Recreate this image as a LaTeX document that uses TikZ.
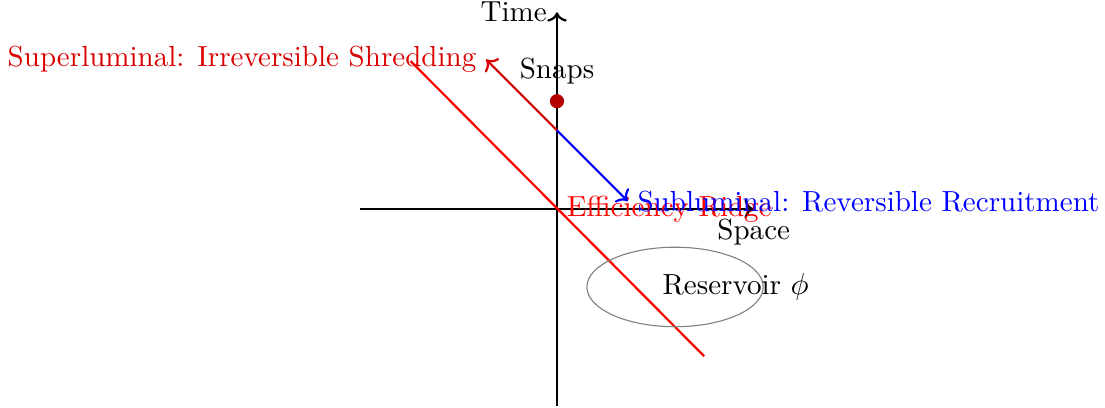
\documentclass[tikz,border=0pt]{standalone}
\usetikzlibrary{arrows.meta,shapes.geometric}
\begin{document}
\begin{tikzpicture}[
  every node/.style={font=\fontsize{10.5}{12.6}\selectfont},
  axis/.style={thick,->},
  ridge/.style={thick,red},
  superl/.style={thick,->,red!85!black},
  subl/.style={thick,->,blue},
  reservoir/.style={draw=gray,thin}
]
\useasboundingbox (-7.077,-2.516) rectangle (6.963,2.656);
% axes
\coordinate (xl) at (-2.5,0);
\coordinate (xr) at (2.5,0);
\coordinate (yb) at (0,-2.5);
\coordinate (yt) at (0,2.5);
\draw[axis] (xl) -- (xr) node[below] (space) {Space};
\draw[axis] (yb) -- (yt) node[left] (time) {Time};
% efficiency ridge
\coordinate (r1) at (-1.86,1.88);
\coordinate (r2) at (1.87,-1.87);
\coordinate (o) at (0,0);
\draw[ridge] (r1) -- (r2);
\node[right,red] (ridgelbl) at (o) {Efficiency Ridge};
% reservoir
\node[reservoir,ellipse,minimum width=2.24cm,minimum height=1.01cm,inner sep=0pt] (res) at (1.5,-0.99) {};
\node (reslbl) at (2.27,-0.99) {Reservoir $\phi$};
% paths from (0,1)
\coordinate (start) at (0,1);
\coordinate (supend) at (-0.9,1.9);
\coordinate (subend) at (0.9,0.1);
\draw[superl] (start) -- (supend);
\node[left,red!85!black] (suplbl) at (supend) {Superluminal: Irreversible Shredding};
\draw[subl] (start) -- (subend);
\node[right,blue] (sublbl) at (subend) {Subluminal: Reversible Recruitment};
% snaps
\fill[red!70!black] (0,1.37) circle (0.09) coordinate (dot);
\node (snaps) at (0,1.75) {Snaps};
\end{tikzpicture}
\end{document}
